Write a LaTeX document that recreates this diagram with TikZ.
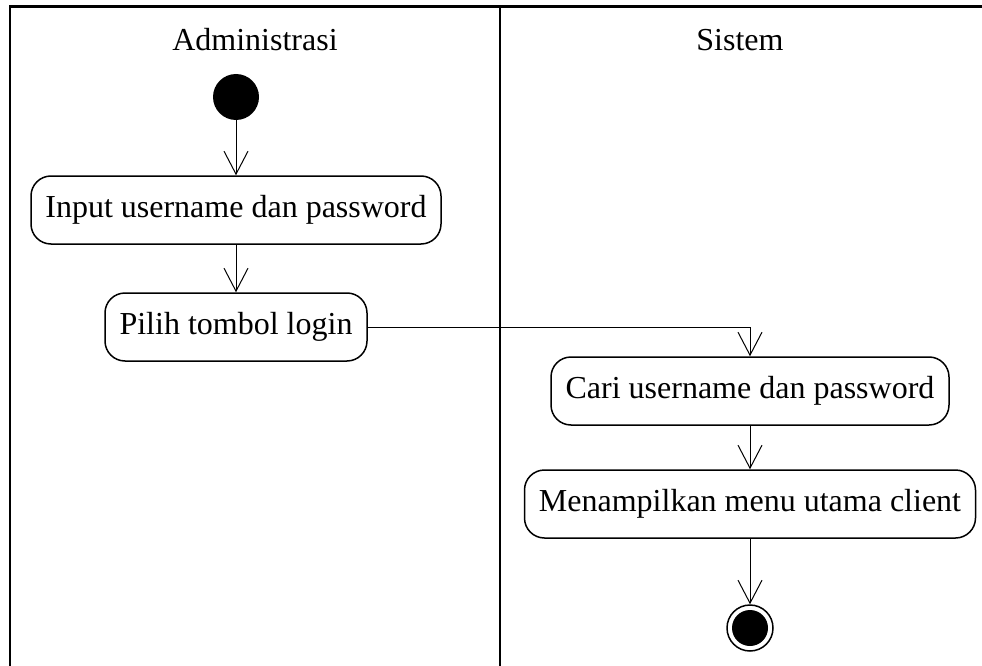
\documentclass[tikz,border=0pt]{standalone}
\usepackage{fontspec}
\setmainfont{Liberation Serif}
\usetikzlibrary{arrows.meta}
\begin{document}
\begin{tikzpicture}[x=1pt,y=-1pt,
  act/.style={draw,line width=1.5pt,rounded corners=20pt,minimum height=68pt,inner xsep=8pt,font=\fontsize{32}{38}\selectfont},
  lane/.style={line width=2.2pt},
  flow/.style={line width=1pt,-{Straight Barb[length=23pt,width=24pt,line width=1pt]}},
  ttl/.style={font=\fontsize{32}{38}\selectfont}]
\useasboundingbox (0,0) rectangle (982,666);
\draw[lane] (10,666) -- (10,6.5) -- (982,6.5);
\draw[lane] (500,6.5) -- (500,666);
\node[ttl] (t1) at (255,40) {Administrasi};
\node[ttl] (t2) at (740,40) {Sistem};
\node[circle,fill=black,minimum size=46pt,inner sep=0pt] (start) at (236,97) {};
\node[act,minimum width=410pt] (a1) at (236,210) {Input username dan password};
\node[act,minimum width=262pt] (a2) at (236,327) {Pilih tombol login};
\node[act,minimum width=398pt] (b1) at (750,391) {Cari username dan password};
\node[act,minimum width=451pt] (b2) at (750,504) {Menampilkan menu utama client};
\node[circle,draw,line width=1.5pt,minimum size=46pt,inner sep=0pt] (end) at (750,628) {};
\node[circle,fill=black,minimum size=36pt,inner sep=0pt] (endin) at (750,628) {};
\coordinate (bend) at (750,327);
\draw[flow] (start) -- (a1);
\draw[flow] (a1) -- (a2);
\draw[flow] (a2.east) -- (bend) -- (b1.north);
\draw[flow] (b1) -- (b2);
\draw[flow] (b2) -- (end);
\end{tikzpicture}
\end{document}
